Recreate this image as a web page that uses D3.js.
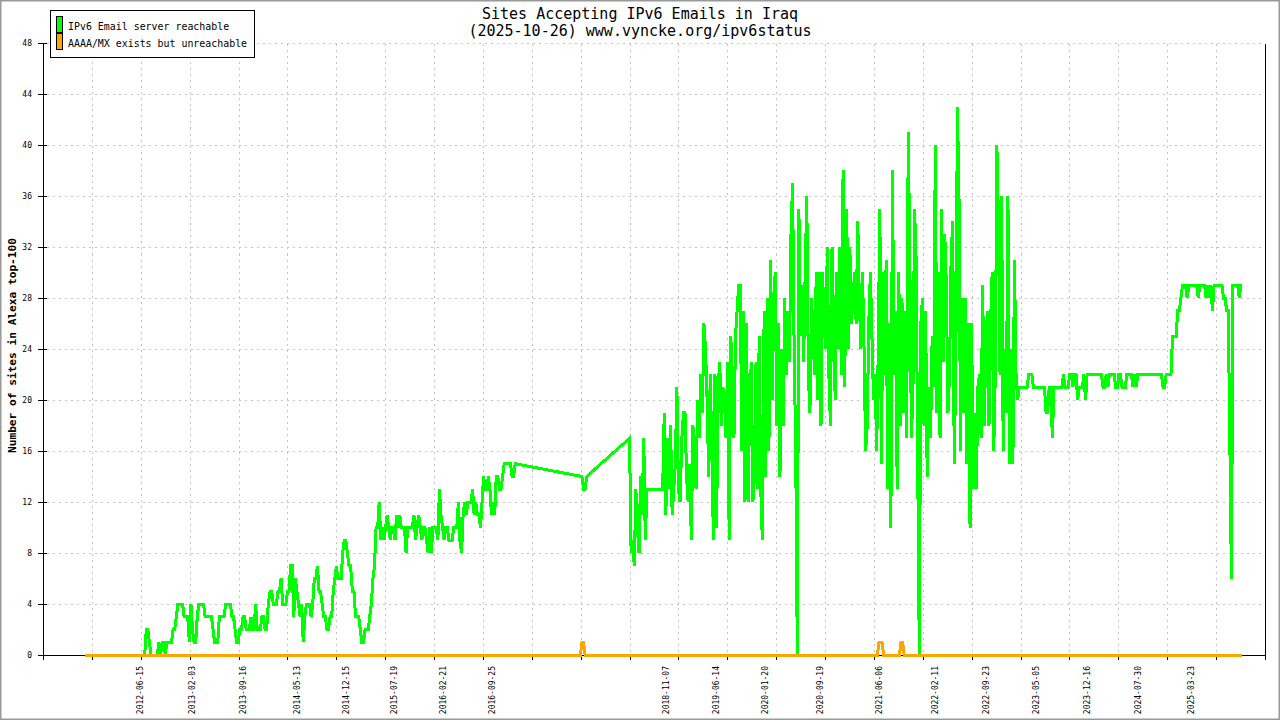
<!DOCTYPE html>
<meta charset="utf-8">
<head>
<script src="https://cdn.jsdelivr.net/npm/d3@7"></script>
<style>
  body { margin: 0; background: #fff; }
  text { font-family: "DejaVu Sans Mono", monospace; fill: #000; }
  .grid line { stroke: #c4c4c4; stroke-dasharray: 2,4; shape-rendering: crispEdges; }
  .axis path, .axis line { stroke: #000; shape-rendering: crispEdges; }
</style>
</head>
<body>
<svg id="svg"></svg>
<script>
// weekly values of "IPv6 Email server reachable", one array per year
var r2011 = [0,0,0,0,0,0,0,0,0,0,0,0,0];
var r2012 = [0,0,0,0,0,0,0,0,0,0,0,0,0,0,0,0,0,0,0,0,0,0,0,0,0,0,
  2,2,1,0,0,0,0,0,1,0,1,1,0,1,1,1,1,2,2,3,4,4,4,4,3,3];
var r2013 = [3,1,4,2,1,1,3,4,4,4, 4,3,3,3,3,3,2,1,1,1, 3,3,3,3,4,4,4,4,3,3,
  2,1,1,2,2,3,3,2,2,2, 3,2,2,4,2,2,2,3,3,2, 2,4];
var r2014 = [5,5,4,4,4,5,5,6,4,4, 4,5,5,7,7,3,6,5,4,3, 4,1,3,4,4,4,3,4,6,6,
  7,5,5,4,3,3,2,2,3,3, 5,6,7,6,6,6,8,9,9,8, 7,7];
var r2015 = [5,5,3,3,3,2,1,1,2,2, 2,3,4,6,7,10,10,12,9,10, 9,10,11,10,9,10,10,9,11,10,
  11,10,10,10,8,10,10,10,10,11, 9,10,11,10,9,10,10,9,8,10, 8,10];
var r2016 = [10,10,9,13,11,10,9,10,10,9, 9,9,10,10,10,12,9,8,11,12, 11,12,12,12,13,11,12,11,11,10,
  12,14,13,13,14,13,11,12,11,14, 14,13,13,14,15,15,15,15,15,14, 14,15];
var r2017 = [14,13,13,14];
var r2018 = [17,8,9,7,13,10,8,14,11,17, 9,13,13,13,13,13,13,13,13,13,
  13,13,19,11,17,13,18,11,13,15, 21,13,12];
var r2019 = [17,19,19,14,12,15,9,18,16,13, 20,17,22,19,26,24,20,14,22,16, 9,22,10,21,23,18,21,20,17,23,
  9,25,22,17,25,27,29,29,16,27, 12,26,12,20,23,12,14,23,13,25, 13,9];
var r2020 = [27,14,28,16,31,20,28,30,18,26, 14,24,18,28,22,27,23,33,37,24, 16,0,35,25,29,23,30,36,22,19,
  28,25,22,30,20,30,18,30,26,24, 32,22,18,32,26,20,30,24,32,22, 38,21];
var r2021 = [35,24,32,26,28,30,26,34,28,24, 30,24,16,18,26,30,25,20,22,16, 24,35,15,30,22,31,13,26,10,38,
  22,27,13,30,18,28,19,27,17,41, 31,17,21,35,31,15,0,26,28,18, 27,14];
var r2022 = [21,17,25,21,40,19,30,17,35,23, 33,29,19,22,31,34,15,23,43,36, 16,28,19,28,15,26,10,26,13,19,
  13,21,22,17,29,18,24,27,18,26, 30,16,22,40,34,22,36,16,24,19, 36,15];
var r2023 = [24,15,31,22,20,21,21,21,21,21, 21,22,22,22,21,21,21,21,21,21, 21,21,19,19,21,21,17,21,21,21,
  21,21,21,22,21,21,21,22,22,21, 22,22,20,21,21,21,22,20,22,22, 22,22];
var r2024 = [22,22,22,22,22,22,21,21,22,21, 22,22,22,22,21,21,22,22,21,21, 21,22,22,22,22,21,22,21,22,22,
  22,22,22,22,22,22,22,22,22,22, 22,22,22,22,21,21,22,22,22,22, 25,25];
var r2025 = [25,27,27,28,29,29,29,28,29,29, 29,29,29,29,28,29,29,29,29,28, 29,28,29,27,29,29,29,29,29,29,
  28,28,27,27,17,6,29,29,29,29, 28,29,29];

var reachYears = [r2011, r2012, r2013, r2014, r2015, r2016, r2017, r2018, r2019, r2020, r2021, r2022, r2023, r2024, r2025];
var reachStarts = ["2011-10-03", "2012-01-01", "2013-01-01", "2014-01-01", "2015-01-01", "2016-01-01",
  "2017-10-15", "2018-05-14", "2019-01-01", "2020-01-01", "2021-01-01", "2022-01-01",
  "2023-01-01", "2024-01-01", "2025-01-01"];

// "AAAA/MX exists but unreachable"
var unreachDates = ["2011-10-03", "2017-10-08", "2017-10-15", "2017-10-22", "2017-10-29",
  "2021-05-17", "2021-05-24", "2021-05-31", "2021-06-07", "2021-06-14",
  "2021-08-23", "2021-08-30", "2021-09-06", "2021-09-13", "2025-10-22"];
var unreachValues = [0, 0, 1, 1, 0, 0, 1, 1, 1, 0, 0, 1, 1, 0, 0];

var xLabels = ["2012-06-15", "2013-02-03", "2013-09-16", "2014-05-13", "2014-12-15", "2015-07-19",
  "2016-02-21", "2016-09-25", "2018-11-07", "2019-06-14", "2020-01-20", "2020-09-19",
  "2021-06-06", "2022-02-11", "2022-09-23", "2023-05-05", "2023-12-16", "2024-07-30", "2025-03-23"];
var yTicks = [0, 4, 8, 12, 16, 20, 24, 28, 32, 36, 40, 44, 48];

var seriesNames = ["IPv6 Email server reachable", "AAAA/MX exists but unreachable"];
var seriesColors = ["#00ff00", "#ffa500"];
var titleLines = ["Sites Accepting IPv6 Emails in Iraq", "(2025-10-26) www.vyncke.org/ipv6status"];

var width = 1280, height = 720;
var parse = d3.utcParse("%Y-%m-%d");

var svg = d3.select("#svg")
  .attr("width", width)
  .attr("height", height);

svg.append("rect")
  .attr("width", width).attr("height", height)
  .attr("fill", "#fff").attr("stroke", "#999").attr("stroke-width", 3);

var t0 = parse("2011-03-31"), t1 = parse("2026-01-30");
var x = d3.scaleUtc().domain([t0, t1]).range([43, 1265]);
var y = d3.scaleLinear().domain([0, 48]).range([655, 43]);

var tickDates = d3.range(26).map(i => new Date(+t0 + i * (t1 - t0) / 25));

// grid
var grid = svg.append("g").attr("class", "grid");
grid.selectAll(".gx")
  .data(tickDates.slice(1, -1))
  .enter().append("line")
  .attr("x1", d => x(d) + 0.5).attr("x2", d => x(d) + 0.5)
  .attr("y1", y(48) + 0.5).attr("y2", y(0));
grid.selectAll(".gy")
  .data(yTicks.slice(1))
  .enter().append("line")
  .attr("x1", 47).attr("x2", x(t1))
  .attr("y1", d => y(d) + 0.5).attr("y2", d => y(d) + 0.5);

// axes
svg.append("g")
  .attr("class", "axis")
  .attr("transform", "translate(0,655)")
  .call(d3.axisBottom(x).tickValues(tickDates).tickFormat("").tickSize(5).tickSizeOuter(0));

var yAxis = svg.append("g")
  .attr("class", "axis")
  .attr("transform", "translate(43,0)")
  .call(d3.axisLeft(y).tickValues(yTicks).tickSize(5).tickSizeOuter(0).tickPadding(6));
yAxis.selectAll(".tick line").attr("x1", 4);
yAxis.selectAll(".tick text")
  .style("font-family", "DejaVu Sans Mono")
  .style("font-size", "8px");

svg.append("line")
  .attr("x1", x(t1) + 0.5).attr("x2", x(t1) + 0.5)
  .attr("y1", y(48) + 0.5).attr("y2", y(0) + 0.5)
  .attr("stroke", "#000").attr("shape-rendering", "crispEdges");

// data
var reachPoints = reachYears.flatMap((vals, i) =>
  vals.map((v, k) => ({ date: d3.utcDay.offset(parse(reachStarts[i]), 7 * k), value: v })));
var unreachPoints = unreachDates.map((d, i) => ({ date: parse(d), value: unreachValues[i] }));

var line = d3.line().x(d => x(d.date)).y(d => y(d.value));

svg.append("path")
  .datum(reachPoints)
  .attr("fill", "none")
  .attr("stroke", seriesColors[0])
  .attr("stroke-width", 3)
  .attr("shape-rendering", "crispEdges")
  .attr("d", line);

svg.append("path")
  .datum(unreachPoints)
  .attr("fill", "none")
  .attr("stroke", seriesColors[1])
  .attr("stroke-width", 3)
  .attr("shape-rendering", "crispEdges")
  .attr("d", line);

// date labels
svg.selectAll(".xlab")
  .data(xLabels)
  .enter().append("text")
  .attr("x", d => x(parse(d)))
  .attr("y", 666)
  .attr("transform", d => "rotate(-90," + x(parse(d)) + ",666)")
  .attr("text-anchor", "end")
  .attr("font-size", "8px")
  .text(d => d);

// title
svg.selectAll(".title")
  .data(titleLines)
  .enter().append("text")
  .attr("x", 640)
  .attr("y", (d, i) => i ? 36 : 18.5)
  .attr("text-anchor", "middle")
  .attr("font-size", "15px")
  .text(d => d);

// y label
svg.append("text")
  .attr("transform", "translate(16,345.5) rotate(-90)")
  .attr("text-anchor", "middle")
  .attr("font-size", "11px")
  .attr("font-weight", "bold")
  .attr("textLength", 215)
  .attr("lengthAdjust", "spacingAndGlyphs")
  .text("Number of sites in Alexa top-100");

// legend
var legend = svg.append("g");
legend.append("rect")
  .attr("x", 50.5).attr("y", 10.5).attr("width", 204).attr("height", 47)
  .attr("fill", "#fff").attr("stroke", "#000").attr("shape-rendering", "crispEdges");
var entry = legend.selectAll(".entry")
  .data(seriesNames)
  .enter().append("g");
entry.append("rect")
  .attr("x", 56.5).attr("y", (d, i) => 16.5 + i * 17)
  .attr("width", 6).attr("height", 16)
  .attr("fill", (d, i) => seriesColors[i])
  .attr("stroke", "#000").attr("shape-rendering", "crispEdges");
entry.append("text")
  .attr("x", 68).attr("y", (d, i) => 30 + i * 17)
  .attr("font-size", "11px")
  .attr("textLength", d => d.length * 5.97)
  .attr("lengthAdjust", "spacingAndGlyphs")
  .text(d => d);
</script>
</body>
